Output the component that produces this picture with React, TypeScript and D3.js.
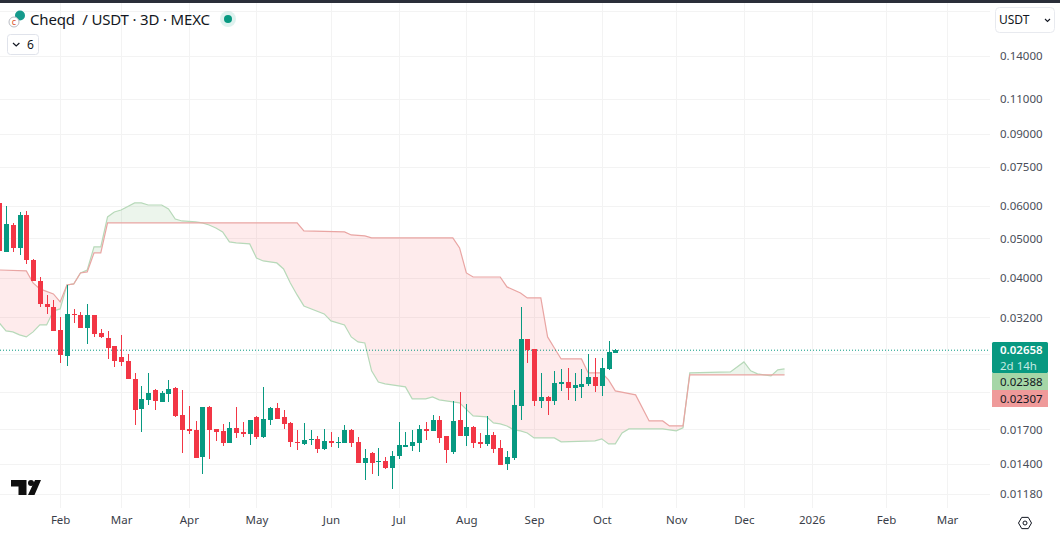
import React from "react";
import * as d3 from "d3";

const WIDTH = 1060;
const HEIGHT = 537;
const UP = "#089981";
const DOWN = "#f23645";
const GRID = "#f3f3f3";
const FONT = "'Noto Sans', sans-serif";

// 3D candles, the first one is cut off by the left edge (bar -1)
const FIRST_BAR = -1;
const opens = [
  0.06105, 0.0463, 0.05392, 0.04735, 0.05705, 0.04425, 0.03931, 0.03452, 0.03394, 0.02981,
  0.02574, 0.03263, 0.03244, 0.03015, 0.03244, 0.02931, 0.0285, 0.02723, 0.02559, 0.02502,
  0.0226, 0.01908, 0.02008, 0.02124, 0.01985, 0.02077, 0.02148, 0.01844, 0.01704, 0.01695,
  0.01456, 0.0193, 0.01704, 0.01685, 0.01575, 0.01714, 0.01676, 0.01657, 0.01824, 0.01629,
  0.01793, 0.01919, 0.01824, 0.01763, 0.01584, 0.01566, 0.01602, 0.01611, 0.01523, 0.01593,
  0.01575, 0.01575, 0.01695, 0.01584, 0.01407, 0.01489, 0.01415, 0.01423, 0.01368, 0.01464,
  0.0154, 0.01549, 0.01575, 0.01704, 0.01685, 0.01793, 0.01638, 0.01497, 0.01793, 0.01638,
  0.01724, 0.01584, 0.01566, 0.01648, 0.01531, 0.01399, 0.01448, 0.01941, 0.02833, 0.02677,
  0.01996, 0.02042, 0.01996, 0.02198, 0.02222, 0.02148, 0.02161, 0.02198, 0.02286, 0.02173,
  0.02392, 0.02617,
];
const highs = [
  0.06105, 0.06003, 0.05453, 0.05802, 0.05835, 0.0445, 0.04019, 0.03632, 0.03531, 0.03208,
  0.03843, 0.03356, 0.033, 0.03452, 0.03244, 0.02998, 0.02964, 0.02723, 0.02899, 0.02603,
  0.02338, 0.02173, 0.02338, 0.02136, 0.02112, 0.02248, 0.02161, 0.02124, 0.01941, 0.01783,
  0.0193, 0.01941, 0.01704, 0.01753, 0.01773, 0.0193, 0.01773, 0.01793, 0.01834, 0.02161,
  0.0193, 0.01974, 0.01897, 0.01773, 0.01695, 0.01763, 0.01695, 0.01638, 0.01704, 0.01676,
  0.01629, 0.01743, 0.01704, 0.01629, 0.01523, 0.01497, 0.01531, 0.01456, 0.01506, 0.01773,
  0.01676, 0.01695, 0.01743, 0.01773, 0.01844, 0.01834, 0.01638, 0.01996, 0.021, 0.01963,
  0.01733, 0.01666, 0.01834, 0.01676, 0.01602, 0.01506, 0.02124, 0.03394, 0.02833, 0.02677,
  0.02338, 0.02054, 0.02365, 0.02392, 0.02405, 0.02338, 0.02392, 0.02603, 0.02545, 0.02545,
  0.02801, 0.02677,
];
const lows = [
  0.04656, 0.0463, 0.0463, 0.04552, 0.04326, 0.03931, 0.03394, 0.03263, 0.02964, 0.02474,
  0.02433, 0.03102, 0.03015, 0.02754, 0.02866, 0.0285, 0.0253, 0.02419, 0.02433, 0.0226,
  0.01743, 0.01676, 0.01952, 0.01897, 0.01985, 0.01985, 0.01824, 0.01489, 0.01657, 0.01448,
  0.01322, 0.01439, 0.01593, 0.01549, 0.01575, 0.0162, 0.01629, 0.01558, 0.01611, 0.0162,
  0.01743, 0.01803, 0.01704, 0.0154, 0.01514, 0.01558, 0.01558, 0.01489, 0.01514, 0.0154,
  0.01531, 0.01575, 0.0154, 0.01407, 0.01278, 0.01322, 0.01307, 0.0136, 0.01215, 0.01439,
  0.0154, 0.01506, 0.01497, 0.01602, 0.01685, 0.01575, 0.01407, 0.01481, 0.01638, 0.01549,
  0.01531, 0.01531, 0.01549, 0.01489, 0.01391, 0.01352, 0.01431, 0.01793, 0.02474, 0.01941,
  0.01919, 0.01844, 0.01952, 0.02112, 0.02008, 0.01996, 0.02031, 0.02173, 0.021, 0.02054,
  0.02378, 0.02617,
];
const closes = [
  0.04656, 0.05422, 0.04735, 0.05705, 0.04425, 0.03931, 0.03452, 0.03394, 0.02964, 0.02588,
  0.03263, 0.03244, 0.03015, 0.03244, 0.02915, 0.02866, 0.02692, 0.02502, 0.02488, 0.0226,
  0.01897, 0.02019, 0.02089, 0.01996, 0.02089, 0.02136, 0.01834, 0.01695, 0.01685, 0.01448,
  0.0193, 0.01695, 0.01676, 0.01575, 0.01714, 0.01666, 0.01657, 0.01793, 0.01629, 0.01803,
  0.01919, 0.01803, 0.01753, 0.01584, 0.01575, 0.01602, 0.01611, 0.01523, 0.01593, 0.01575,
  0.01584, 0.01695, 0.01575, 0.01407, 0.01448, 0.01407, 0.01423, 0.01368, 0.01464, 0.01558,
  0.01558, 0.01584, 0.01704, 0.01685, 0.01793, 0.0162, 0.01514, 0.01783, 0.01638, 0.01724,
  0.01575, 0.01566, 0.01648, 0.01523, 0.01391, 0.01456, 0.01952, 0.02833, 0.02662, 0.01996,
  0.02042, 0.01996, 0.0221, 0.02222, 0.02148, 0.02185, 0.02198, 0.02286, 0.02173, 0.02405,
  0.02632, 0.02658,
];

// cloud edges, read at their corners
const spanABars = [
  -1, 0, 1, 2, 3, 4, 5, 6, 7, 8, 9, 10, 11, 12, 13, 14, 15, 16, 17, 19, 20, 21, 23, 24, 25, 26, 28, 29, 30, 31,
  32, 33, 34, 36, 37, 38, 40, 41, 42, 43, 44, 47, 48, 50, 51, 52, 53, 54, 55, 56, 59, 60, 62, 63, 64, 66, 67, 69,
  71, 72, 73, 74, 75, 76, 77, 78, 81, 82, 87, 88, 89, 90, 91, 92, 97, 98, 99, 100, 101, 107, 109, 110, 111, 113,
  114, 115,
];
const spanAValues = [
  0.03103, 0.02964, 0.02948, 0.02899, 0.02865, 0.02948, 0.03066, 0.03066, 0.03318, 0.03356, 0.03843, 0.03864,
  0.04112, 0.04182, 0.04762, 0.04762, 0.05641, 0.05802, 0.05868, 0.06105, 0.06105, 0.06036, 0.06036, 0.05901,
  0.05577, 0.05515, 0.05484, 0.05453, 0.05392, 0.05301, 0.05183, 0.04899, 0.04871, 0.04844, 0.04475, 0.044,
  0.04351, 0.04206, 0.03886, 0.03632, 0.03413, 0.03263, 0.03136, 0.03066, 0.02865, 0.02785, 0.02769, 0.02365,
  0.0222, 0.02198, 0.02161, 0.02019, 0.02019, 0.02042, 0.02008, 0.01985, 0.01974, 0.01834, 0.01824, 0.01763,
  0.01753, 0.01733, 0.01695, 0.01685, 0.01666, 0.0162, 0.0162, 0.01584, 0.01593, 0.01611, 0.01566, 0.01566,
  0.01666, 0.01704, 0.01704, 0.01695, 0.01685, 0.01714, 0.02338, 0.02351, 0.02488, 0.02365, 0.02325, 0.02299,
  0.02378, 0.02392,
];
const spanBBars = [
  -1, 3, 4, 5, 7, 8, 9, 10, 11, 12, 13, 14, 15, 43, 44, 50, 51, 53, 54, 66, 67, 68, 69, 73, 74, 76, 77, 79, 80,
  81, 82, 85, 86, 88, 89, 90, 93, 95, 97, 98, 100, 101, 115,
];
const spanBValues = [
  0.04182, 0.04159, 0.03886, 0.03757, 0.03653, 0.03491, 0.03843, 0.03864, 0.04112, 0.04135, 0.04604, 0.04604,
  0.05453, 0.05453, 0.05213, 0.05183, 0.05096, 0.05068, 0.05011, 0.05011, 0.04735, 0.04112, 0.04019, 0.04019,
  0.038, 0.03673, 0.03571, 0.03571, 0.02865, 0.02692, 0.0253, 0.0253, 0.02338, 0.02338, 0.02248, 0.02112, 0.02065,
  0.01783, 0.01783, 0.01733, 0.01733, 0.02312, 0.02312,
];

const priceLabels = [0.14, 0.11, 0.09, 0.075, 0.06, 0.05, 0.04, 0.032, 0.017, 0.014, 0.0118];
const hiddenGridPrices = [0.18, 0.026, 0.021];
const lastPrice = 0.02658;

const monthBars = [8, 17, 27, 37, 48, 58, 68, 78, 88, 99, 109, 119, 130, 139];
const monthNames = ["Feb", "Mar", "Apr", "May", "Jun", "Jul", "Aug", "Sep", "Oct", "Nov", "Dec", "2026", "Feb", "Mar"];

const tags = [
  { label: "0.02388", fill: "#a5d6a7", color: "#131722", top: 373, h: 17 },
  { label: "0.02307", fill: "#ef9a9a", color: "#131722", top: 390, h: 17 },
];

const App: React.FC = () => {
  const svgRef = React.useRef<SVGSVGElement | null>(null);

  React.useEffect(() => {
    if (!svgRef.current) return;
    const svg = d3.select(svgRef.current);
    svg.selectAll("*").remove();

    const axisX = 990;
    const plotBottom = 508;
    const labelSize = 11.5;

    const x = d3.scaleLinear().domain([0, 139]).range([6, 6 + 139 * 6.77]);
    const y = d3.scaleLog().domain([0.14, 0.0118]).range([56, 494]);

    svg.append("rect").attr("width", WIDTH).attr("height", HEIGHT).attr("fill", "#fff");
    svg.append("rect").attr("width", WIDTH).attr("height", 3).attr("fill", "#2a2e39");

    // grid
    const grid = svg.append("g").attr("stroke", GRID).attr("shape-rendering", "crispEdges");
    [...priceLabels, ...hiddenGridPrices].forEach((p) => {
      const py = Math.round(y(p)) + 0.5;
      grid.append("line").attr("x1", 0).attr("x2", axisX).attr("y1", py).attr("y2", py);
    });
    monthBars.forEach((b) => {
      const px = Math.round(x(b)) + 0.5;
      grid.append("line").attr("x1", px).attr("x2", px).attr("y1", 3).attr("y2", plotBottom);
    });

    // ichimoku cloud
    const spanA = d3.scaleLinear<number>().domain(spanABars).range(spanAValues);
    const spanB = d3.scaleLinear<number>().domain(spanBBars).range(spanBValues);
    const cloudBars = d3.range(-1, 115.01, 0.25);
    const redCloud = d3
      .area<number>()
      .x((b) => x(b))
      .y0((b) => y(spanA(b)))
      .y1((b) => y(Math.max(spanA(b), spanB(b))));
    const greenCloud = d3
      .area<number>()
      .x((b) => x(b))
      .y0((b) => y(spanB(b)))
      .y1((b) => y(Math.max(spanA(b), spanB(b))));
    svg.append("path").attr("d", redCloud(cloudBars)).attr("fill", "#f23645").attr("fill-opacity", 0.1);
    svg.append("path").attr("d", greenCloud(cloudBars)).attr("fill", "#43a047").attr("fill-opacity", 0.1);

    const edgeA = d3
      .line<number>()
      .x((b) => x(b))
      .y((b) => y(spanA(b)));
    svg.append("path").attr("d", edgeA(spanABars)).attr("fill", "none").attr("stroke", "#b7d9b9").attr("stroke-width", 1.2);
    const edgeB = d3
      .line<number>()
      .x((b) => x(b))
      .y((b) => y(spanB(b)));
    svg.append("path").attr("d", edgeB(spanBBars)).attr("fill", "none").attr("stroke", "#e9a5a3").attr("stroke-width", 1.2);

    // last price line
    svg
      .append("line")
      .attr("x1", 0)
      .attr("x2", axisX)
      .attr("y1", y(lastPrice))
      .attr("y2", y(lastPrice))
      .attr("stroke", UP)
      .attr("stroke-dasharray", "1 2");

    // candles
    const candles = svg.append("g").attr("shape-rendering", "crispEdges");
    opens.forEach((open, i) => {
      const close = closes[i];
      const cx = Math.round(x(FIRST_BAR + i));
      const color = close >= open ? UP : DOWN;
      candles
        .append("rect")
        .attr("x", cx)
        .attr("width", 1)
        .attr("y", y(highs[i]))
        .attr("height", y(lows[i]) - y(highs[i]))
        .attr("fill", color);
      candles
        .append("rect")
        .attr("x", cx - 2)
        .attr("width", 5)
        .attr("y", y(Math.max(open, close)))
        .attr("height", Math.max(1.5, Math.abs(y(open) - y(close))))
        .attr("fill", color);
    });

    // axes
    const yAxis = svg
      .append("g")
      .attr("transform", `translate(${axisX + 10}, 0)`)
      .call(
        d3
          .axisRight(y)
          .tickValues(priceLabels)
          .tickSize(0)
          .tickPadding(0)
          .tickFormat((d) => (+d).toFixed(5))
      );
    yAxis.select(".domain").remove();
    yAxis.selectAll("text").attr("fill", "#4a4e59").attr("font-size", labelSize).attr("font-family", FONT);

    const xAxis = svg
      .append("g")
      .attr("transform", "translate(0, 516)")
      .call(
        d3
          .axisBottom(x)
          .tickValues(monthBars)
          .tickSize(0)
          .tickPadding(0)
          .tickFormat((_, i) => monthNames[i])
      );
    xAxis.select(".domain").remove();
    xAxis.selectAll("text").attr("fill", "#3a3e49").attr("font-size", labelSize).attr("font-family", FONT);

    // price tags
    const addTagText = (label: string, ty: number, color: string) =>
      svg
        .append("text")
        .attr("x", 1000)
        .attr("y", ty)
        .attr("fill", color)
        .attr("font-size", labelSize)
        .attr("font-family", FONT)
        .text(label);
    svg.append("rect").attr("x", 992).attr("y", 342).attr("width", 56).attr("height", 31).attr("rx", 1.5).attr("fill", UP);
    addTagText(lastPrice.toFixed(5), 354, "#fff").attr("font-weight", 600);
    addTagText("2d 14h", 369.5, "#c4ebe3");
    tags.forEach((t) => {
      svg.append("rect").attr("x", 992).attr("y", t.top).attr("width", 56).attr("height", t.h).attr("fill", t.fill);
      addTagText(t.label, t.top + 13, t.color);
    });

    // legend
    svg.append("circle").attr("cx", 20).attr("cy", 15.5).attr("r", 5).attr("fill", "#159a8c");
    svg
      .append("circle")
      .attr("cx", 14)
      .attr("cy", 22)
      .attr("r", 5)
      .attr("fill", "#fff")
      .attr("stroke", "#b9bcc4");
    svg
      .append("text")
      .attr("x", 14)
      .attr("y", 25)
      .attr("text-anchor", "middle")
      .attr("font-size", 9)
      .attr("font-family", FONT)
      .attr("fill", "#d9542b")
      .text("c");
    svg
      .append("text")
      .attr("x", 30)
      .attr("y", 25)
      .attr("font-size", 15)
      .attr("font-family", FONT)
      .attr("fill", "#131722")
      .attr("xml:space", "preserve")
      .attr("textLength", 180)
      .text("Cheqd  / USDT · 3D · MEXC");
    svg.append("circle").attr("cx", 228).attr("cy", 19).attr("r", 8).attr("fill", UP).attr("fill-opacity", 0.13);
    svg.append("circle").attr("cx", 228).attr("cy", 19).attr("r", 4).attr("fill", UP);

    // collapse button
    svg
      .append("rect")
      .attr("x", 7.5)
      .attr("y", 34.5)
      .attr("width", 31)
      .attr("height", 20)
      .attr("rx", 3)
      .attr("fill", "#fff")
      .attr("stroke", "#e0e3eb");
    svg
      .append("path")
      .attr("d", "M13 43l3.2 3 3.2-3")
      .attr("fill", "none")
      .attr("stroke", "#131722")
      .attr("stroke-width", 1.2);
    svg
      .append("text")
      .attr("x", 27)
      .attr("y", 49)
      .attr("font-size", 12)
      .attr("font-family", FONT)
      .attr("fill", "#131722")
      .text("6");

    // currency button
    svg
      .append("rect")
      .attr("x", 995.5)
      .attr("y", 7.5)
      .attr("width", 59)
      .attr("height", 25)
      .attr("rx", 4)
      .attr("fill", "#fff")
      .attr("stroke", "#e8eaef");
    svg
      .append("text")
      .attr("x", 999)
      .attr("y", 24)
      .attr("font-size", 12)
      .attr("font-family", FONT)
      .attr("fill", "#131722")
      .text("USDT");
    svg
      .append("path")
      .attr("d", "M1045 19l2.5 2.5 2.5-2.5")
      .attr("fill", "none")
      .attr("stroke", "#131722")
      .attr("stroke-width", 1.1);

    // logo
    svg
      .append("path")
      .attr("d", "M11 480H26.5V495H18.5V486.5H11Z M28 495L35 480H41L34.5 495Z")
      .attr("fill", "#0f0f0f");
    svg.append("circle").attr("cx", 31).attr("cy", 483).attr("r", 3).attr("fill", "#0f0f0f");

    // settings gear
    const gear = d3
      .line<number>()
      .x((a) => 1025 + 6.5 * Math.cos(a))
      .y((a) => 523 + 6.5 * Math.sin(a))
      .curve(d3.curveLinearClosed);
    svg
      .append("path")
      .attr("d", gear(d3.range(6).map((k) => (k * Math.PI) / 3)))
      .attr("fill", "none")
      .attr("stroke", "#131722");
    svg.append("circle").attr("cx", 1025).attr("cy", 523).attr("r", 2).attr("fill", "none").attr("stroke", "#131722");
  }, []);

  return (
    <svg
      ref={svgRef}
      width={WIDTH}
      height={HEIGHT}
      style={{ position: "absolute", left: 0, top: 0, display: "block" }}
    ></svg>
  );
};

export default App;
